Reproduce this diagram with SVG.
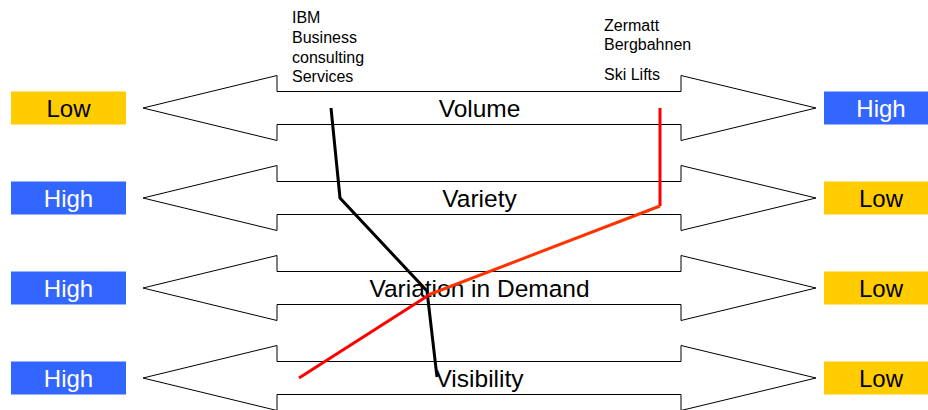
<svg xmlns="http://www.w3.org/2000/svg" width="928" height="410" viewBox="0 0 928 410">
<style>
.arrow{fill:#fff;stroke:#000;stroke-width:1}
.big{font-family:"Liberation Sans",Arial,sans-serif;font-size:24px;text-anchor:middle}
.mid{font-size:24.5px}
.small{font-family:"Liberation Sans",Arial,sans-serif;font-size:16px;fill:#000}
.yel{fill:#FFCC00}
.blu{fill:#3366FF}
.tb{fill:#000}
.tw{fill:#fff}
.ln{fill:none;stroke-width:3;stroke-linejoin:miter}
</style>
<defs>
<polygon id="dbl" class="arrow" points="143,0 277,-32.5 277,-16.5 681,-16.5 681,-32.5 816,0 681,32.5 681,16.5 277,16.5 277,32.5"/>
</defs>
<g id="arrow-volume">
<use href="#dbl" transform="translate(0,108)"/>
<text class="big mid tb" x="479.5" y="117">Volume</text>
</g>
<g id="arrow-variety">
<use href="#dbl" transform="translate(0,198)"/>
<text class="big mid tb" x="479.5" y="207">Variety</text>
</g>
<g id="arrow-variation">
<use href="#dbl" transform="translate(0,288)"/>
<text class="big mid tb" x="479.5" y="297">Variation in Demand</text>
</g>
<g id="arrow-visibility">
<use href="#dbl" transform="translate(0,378)"/>
<text class="big mid tb" x="479.5" y="387">Visibility</text>
</g>
<g id="left-labels">
<g id="l1"><rect class="yel" x="11" y="91.5" width="115" height="33"/><text class="big tb" x="68.5" y="116.5">Low</text></g>
<g id="l2"><rect class="blu" x="11" y="181.5" width="115" height="33"/><text class="big tw" x="68.5" y="206.5">High</text></g>
<g id="l3"><rect class="blu" x="11" y="271.5" width="115" height="33"/><text class="big tw" x="68.5" y="296.5">High</text></g>
<g id="l4"><rect class="blu" x="11" y="361.5" width="115" height="33"/><text class="big tw" x="68.5" y="386.5">High</text></g>
</g>
<g id="right-labels">
<g id="r1"><rect class="blu" x="824" y="91.5" width="115" height="33"/><text class="big tw" x="881" y="116.5">High</text></g>
<g id="r2"><rect class="yel" x="824" y="181.5" width="115" height="33"/><text class="big tb" x="881" y="206.5">Low</text></g>
<g id="r3"><rect class="yel" x="824" y="271.5" width="115" height="33"/><text class="big tb" x="881" y="296.5">Low</text></g>
<g id="r4"><rect class="yel" x="824" y="361.5" width="115" height="33"/><text class="big tb" x="881" y="386.5">Low</text></g>
</g>
<g id="ibm-label">
<text class="small" x="292" y="23">IBM</text>
<text class="small" x="292" y="43">Business</text>
<text class="small" x="292" y="62.5">consulting</text>
<text class="small" x="292" y="82">Services</text>
</g>
<g id="zermatt-label">
<text class="small" x="604" y="30.5">Zermatt</text>
<text class="small" x="604" y="50">Bergbahnen</text>
<text class="small" x="604" y="80">Ski Lifts</text>
</g>
<g id="connectors">
<polyline class="ln" stroke="#000" points="331,108 340,198 427,291 437,377"/>
<polyline class="ln" stroke="#FF0000" points="660,108 660,206"/>
<line class="ln" stroke="#FF3300" x1="660" y1="206" x2="428" y2="295"/>
<line class="ln" stroke="#FF0000" x1="429" y1="295" x2="299" y2="378"/>
</g>
</svg>
